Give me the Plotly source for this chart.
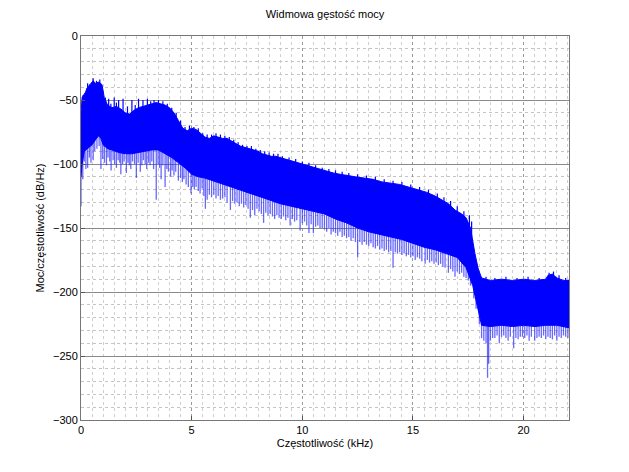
import numpy as np
import plotly.graph_objects as go

# ---- data (frequency in kHz, PSD in dB/Hz) ----
upper_f = [0.0, 0.05, 0.2, 0.3, 0.45, 0.55, 0.65, 0.8, 0.95, 1.05, 1.2, 1.4, 1.6, 1.8, 2.0, 2.2, 2.4,
           2.6, 2.8, 3.0, 3.2, 3.4, 3.6, 3.8, 4.0, 4.2, 4.4, 4.6, 4.8, 5.0, 5.2, 5.4, 5.6, 5.8, 6.0,
           6.2, 6.4, 6.6, 6.8, 7.0, 7.2, 7.4, 7.6, 7.8, 8.0, 8.2, 8.4, 8.6, 8.8, 9.0, 9.3, 9.6, 9.9,
           10.2, 10.5, 10.8, 11.1, 11.4, 11.7, 12.0, 12.4, 12.8, 13.2, 13.6, 14.0, 14.4, 14.8, 15.2,
           15.6, 16.0, 16.3, 16.6, 16.9, 17.2, 17.4, 17.6, 17.8, 17.95, 18.1, 18.5, 19.0, 19.5, 20.0,
           20.5, 21.0, 21.1, 21.3, 21.5, 21.8, 22.05]
upper_db = [-60, -48, -44, -40, -37, -35, -37, -36, -38, -48, -54, -56, -55, -57, -60, -61, -58,
            -56, -55, -54, -53, -52, -53, -54, -56, -60, -66, -72, -74, -72, -73, -76, -79, -80, -78,
            -79, -80, -80, -82, -84, -86, -87, -88, -89, -90, -92, -93, -94, -94, -95, -97, -98, -100,
            -101, -103, -104, -106, -107, -108, -109, -110, -111, -112, -114, -115, -116, -118, -120,
            -122, -125, -128, -131, -136, -139, -142, -150, -170, -182, -189, -191, -190, -191, -190,
            -191, -190, -187, -186, -189, -191, -191]

lower_f = [0.0, 0.05, 0.15, 0.3, 0.5, 0.7, 0.8, 0.9, 1.0, 1.2, 1.4, 1.7, 2.0, 2.3, 2.6, 2.9, 3.2, 3.5,
           3.8, 4.1, 4.4, 4.7, 5.0, 5.3, 5.6, 6.0, 6.5, 7.0, 7.5, 8.0, 8.5, 9.0, 9.5, 10.0, 10.5, 11.0,
           11.5, 12.0, 12.5, 13.0, 13.5, 14.0, 14.5, 15.0, 15.5, 16.0, 16.5, 17.0, 17.4, 17.7, 17.9,
           18.1, 18.5, 19.0, 19.5, 20.0, 20.5, 21.0, 21.5, 22.05]
lower_db = [-110, -100, -90, -88, -85, -80, -78, -80, -85, -88, -89, -91, -92, -92, -91, -90, -89, -89,
            -92, -95, -99, -103, -108, -110, -111, -113, -116, -119, -122, -125, -128, -131, -133, -135,
            -137, -139, -143, -146, -150, -153, -155, -157, -159, -162, -165, -167, -170, -173, -181,
            -195, -210, -226, -227, -226, -227, -226, -227, -226, -226, -228]

# downward spikes below the dense band (tip values)
spike_f = [0.0, 0.08, 0.15, 0.22, 0.3, 0.38, 0.45, 0.55, 0.62, 0.72, 0.82, 0.9, 0.98, 1.06, 1.15,
           1.22, 1.3, 1.36, 1.45, 1.52, 1.6, 1.68, 1.75, 1.8, 1.88, 1.95, 2.05, 2.12, 2.18, 2.25,
           2.33, 2.42, 2.5, 2.58, 2.68, 2.75, 2.82, 2.9, 2.97, 3.05, 3.12, 3.2, 3.28, 3.4, 3.48,
           3.55, 3.62, 3.7, 3.8, 3.88, 3.95, 4.05, 4.12, 4.2, 4.28, 4.4, 4.5, 4.58, 4.65, 4.75,
           4.85, 4.97, 5.05, 5.12, 5.2, 5.3, 5.38, 5.47, 5.55, 5.62, 5.7, 5.8, 5.9, 6.0, 6.1, 6.2,
           6.3, 6.4, 6.5, 6.6, 6.75, 6.85, 6.95, 7.05, 7.15, 7.25, 7.35, 7.45, 7.55, 7.65, 7.75,
           7.85, 7.95, 8.05, 8.15, 8.25, 8.35, 8.45, 8.55, 8.65, 8.75, 8.85, 8.95, 9.05, 9.15,
           9.25, 9.35, 9.45, 9.55, 9.65, 9.75, 9.9, 10.0, 10.1, 10.2, 10.3, 10.4, 10.5, 10.6,
           10.7, 10.8, 10.9, 11.0, 11.1, 11.2, 11.3, 11.4, 11.5, 11.6, 11.7, 11.8, 11.9, 12.0,
           12.1, 12.2, 12.3, 12.4, 12.5, 12.6, 12.7, 12.8, 12.9, 13.0, 13.1, 13.2, 13.3, 13.4,
           13.5, 13.6, 13.7, 13.8, 13.9, 14.0, 14.1, 14.2, 14.3, 14.4, 14.5, 14.6, 14.7, 14.8,
           14.9, 15.0, 15.1, 15.2, 15.3, 15.4, 15.55, 15.65, 15.75, 15.85, 15.95, 16.05, 16.15,
           16.25, 16.35, 16.45, 16.6, 16.7, 16.8, 16.9, 17.0, 17.1, 17.2, 17.3, 17.4, 17.5, 17.6,
           17.75, 17.85, 18.0, 18.1, 18.2, 18.3, 18.37, 18.42, 18.5, 18.6, 18.7, 18.8, 18.9, 19.0,
           19.1, 19.2, 19.3, 19.4, 19.55, 19.65, 19.75, 19.85, 19.95, 20.05, 20.15, 20.25, 20.35,
           20.5, 20.6, 20.7, 20.8, 20.9, 21.0, 21.1, 21.2, 21.3, 21.4, 21.5, 21.6, 21.7, 21.8,
           21.9, 22.0]
spike_db = [-133, -112, -98, -104, -103, -95, -99, -97, -90, -88, -86, -104, -96, -99, -101,
            -95, -98, -105, -97, -100, -103, -97, -99, -108, -100, -98, -107, -99, -101, -104,
            -98, -100, -111, -99, -106, -101, -97, -100, -104, -99, -101, -98, -104, -128, -100,
            -103, -112, -101, -118, -104, -106, -110, -105, -109, -106, -113, -111, -114, -112, -116,
            -118, -123, -118, -120, -118, -121, -123, -119, -125, -135, -128, -124, -126, -124, -127, -125,
            -128, -127, -126, -130, -136, -129, -131, -130, -133, -131, -134, -132, -135, -142, -136,
            -140, -135, -137, -139, -146, -138, -140, -139, -141, -143, -140, -142, -143, -141,
            -144, -142, -148, -143, -145, -144, -152, -146, -145, -148, -154, -147, -154, -149,
            -148, -150, -150, -151, -153, -150, -155, -153, -154, -156, -153, -157, -156, -158,
            -157, -160, -158, -161, -173, -161, -163, -161, -163, -164, -162, -165, -166, -164,
            -167, -166, -168, -167, -169, -168, -181, -169, -170, -169, -171, -170, -172, -171,
            -173, -172, -175, -173, -174, -176, -178, -175, -177, -176, -178, -177, -179,
            -178, -180, -181, -185, -182, -184, -188, -184, -186, -185, -188, -189, -191, -195,
            -205, -213, -225, -236, -238, -240, -267, -256, -238, -236, -236, -234, -240, -235,
            -234, -236, -238, -235, -244, -236, -237, -235, -235, -236, -234, -238, -235,
            -238, -236, -235, -236, -234, -237, -235, -236, -237, -234, -238, -235, -236, -234,
            -235, -236]

# upward spikes above the dense band (tip values)
up_f = [0.1, 0.25, 0.3, 0.4, 0.55, 0.7, 0.85, 1.0, 1.1, 1.25, 1.35, 1.5, 1.6, 1.7, 1.9, 2.1, 2.3,
        2.45, 2.6, 2.8, 3.0, 3.15, 3.3, 3.5, 3.7, 3.9, 4.1, 4.3, 4.5, 4.7, 4.9, 5.1, 5.3, 5.5, 5.7,
        5.9, 6.1, 6.3, 6.5, 6.7, 6.9, 7.1, 7.3, 7.5, 7.7, 7.9, 8.1, 8.3, 8.5, 8.7, 8.9, 9.1, 9.4,
        9.7, 10.0, 10.3, 10.6, 10.9, 11.2, 11.5, 11.8, 12.1, 12.5, 12.9, 13.3, 13.7, 14.1, 14.5,
        14.9, 15.3, 15.7, 16.1, 16.4, 16.7, 17.0, 17.3, 17.55, 17.65, 18.3, 18.7, 19.2, 19.7,
        20.2, 20.7, 21.15, 21.35, 21.6, 21.9]
up_db = [-46, -41, -37, -38, -33, -35, -34, -44, -48, -49, -53, -48, -52, -50, -49, -55, -50,
         -54, -49, -50, -49, -51, -50, -50, -51, -53, -56, -60, -66, -71, -70, -71, -72, -76, -77,
         -77, -76, -77, -78, -79, -81, -83, -85, -86, -86, -88, -89, -90, -91, -92, -92, -94, -95,
         -96, -98, -99, -101, -103, -104, -105, -106, -107, -108, -109, -110, -112, -113, -114,
         -116, -118, -120, -123, -126, -129, -133, -137, -140, -145, -188, -189, -188, -189,
         -188, -189, -185, -184, -187, -189]

blue = "#0000FF"
fig = go.Figure()

# downward spikes
sx, sy = [], []
for f, d in zip(spike_f, spike_db):
    base = float(np.interp(f, lower_f, lower_db))
    sx += [f, f, None]
    sy += [base + 2, d, None]
fig.add_trace(go.Scatter(x=sx, y=sy, mode="lines", line=dict(color="rgba(40,40,255,0.7)", width=1.3),
                         hoverinfo="skip", showlegend=False))

# upward spikes
ux, uy = [], []
for f, d in zip(up_f, up_db):
    base = float(np.interp(f, upper_f, upper_db))
    ux += [f, f, None]
    uy += [base - 2, d, None]
fig.add_trace(go.Scatter(x=ux, y=uy, mode="lines", line=dict(color=blue, width=1.2),
                         hoverinfo="skip", showlegend=False))

# dense band
bx = list(upper_f) + list(lower_f[::-1])
by = list(upper_db) + list(lower_db[::-1])
fig.add_trace(go.Scatter(x=bx, y=by, mode="lines", fill="toself", fillcolor=blue,
                         line=dict(color=blue, width=1), hoverinfo="skip", showlegend=False))

font = "Liberation Sans, Arial, sans-serif"
fig.update_layout(
    width=629, height=472,
    margin=dict(l=81, r=60, t=36, b=52),
    paper_bgcolor="white", plot_bgcolor="white",
    font=dict(family=font, size=11, color="black"),
    title=dict(text="Widmowa gęstość mocy", x=(81 + 569) / 2 / 629, xanchor="center",
               y=1 - 14 / 472, yanchor="middle", font=dict(size=11)),
    xaxis=dict(range=[0, 22.05], tickvals=[0, 5, 10, 15, 20], ticks="inside", ticklen=4,
               tickcolor="#555", showline=True, linecolor="#777", mirror=True, zeroline=False,
               showgrid=True, gridcolor="#999", griddash="dot", gridwidth=1,
               minor=dict(dtick=0.5, showgrid=True, gridcolor="#cfcfcf", griddash="dot"),
               title=dict(text="Częstotliwość (kHz)", standoff=4, font=dict(size=11)),
               tickfont=dict(size=11)),
    yaxis=dict(range=[-300, 0], dtick=50, ticks="inside", ticklen=4, tickcolor="#555",
               showline=True, linecolor="#777", mirror=True, zeroline=False,
               showgrid=True, gridcolor="#8a8a8a", gridwidth=1,
               minor=dict(dtick=10, showgrid=True, gridcolor="#c4c4c4", griddash="dot"),
               title=dict(text="Moc/częstotliwość (dB/Hz)", standoff=6, font=dict(size=11)),
               tickfont=dict(size=11)),
)

fig.write_html("out.html")
